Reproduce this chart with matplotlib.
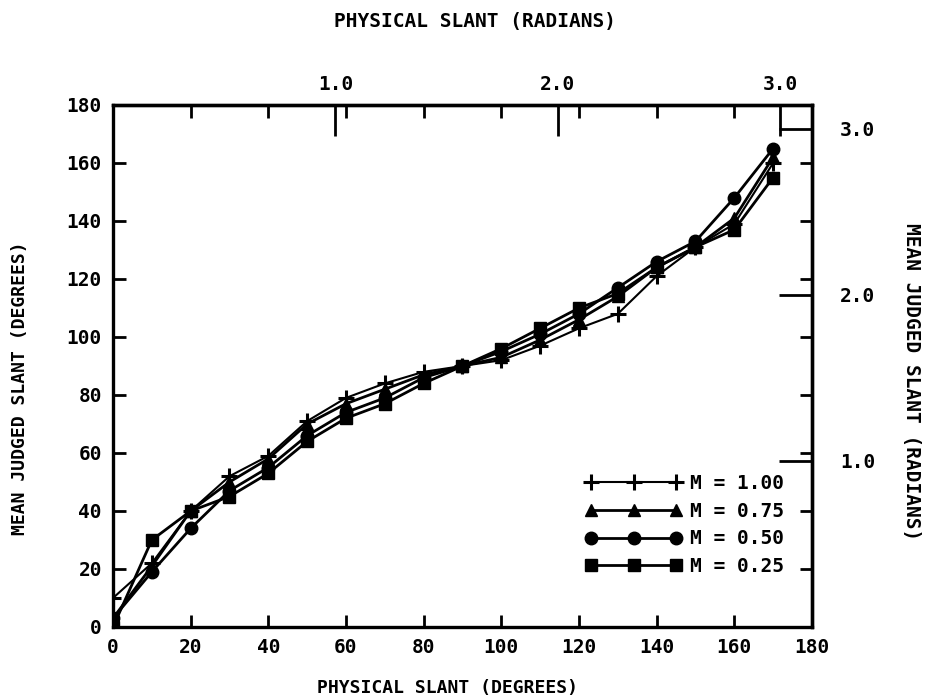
import numpy as np
import matplotlib
matplotlib.use("Agg")
import matplotlib.pyplot as plt

# ---- data (degrees) ----
physical = [0, 10, 20, 30, 40, 50, 60, 70, 80, 90, 100, 110, 120, 130, 140, 150, 160, 170]
m100 = [10, 22, 40, 52, 59, 71, 79, 84, 88, 90, 92, 97, 103, 108, 121, 131, 139, 160]
m075 = [3, 21, 40, 50, 58, 70, 77, 82, 87, 90, 93, 99, 106, 114, 124, 131, 141, 162]
m050 = [3, 19, 34, 47, 55, 66, 74, 79, 86, 90, 95, 101, 108, 117, 126, 133, 148, 165]
m025 = [0, 30, 40, 45, 53, 64, 72, 77, 84, 90, 96, 103, 110, 115, 124, 131, 137, 155]
labels = ["M = 1.00", "M = 0.75", "M = 0.50", "M = 0.25"]
deg_ticks = [0, 20, 40, 60, 80, 100, 120, 140, 160, 180]
rad_ticks = [1.0, 2.0, 3.0]
rad_labels = ["1.0", "2.0", "3.0"]

FONT = "DejaVu Sans Mono"
FS = 14

fig = plt.figure(figsize=(9.28, 7.0), dpi=100)
ax = fig.add_axes([113/928, 1-627/700, (812-113)/928, (627-105)/700])

styles = [dict(marker='+', ms=12, mew=2.2, lw=1.5),
          dict(marker='^', ms=8, lw=2.0),
          dict(marker='o', ms=9, lw=2.0),
          dict(marker='s', ms=8, lw=2.0)]
for ys, lab, st in zip([m100, m075, m050, m025], labels, styles):
    ax.plot(physical, ys, color='black', label=lab, **st)

ax.set_xlim(0, 180)
ax.set_ylim(0, 180)
ax.set_xticks(deg_ticks)
ax.set_yticks(deg_ticks)
ax.tick_params(direction='in', length=9, width=2, top=True, right=True,
               labelsize=FS, pad=8)
for lab in ax.get_xticklabels() + ax.get_yticklabels():
    lab.set_fontfamily(FONT)
    lab.set_fontweight('bold')
for sp in ax.spines.values():
    sp.set_linewidth(2.4)

d2r = lambda d: np.deg2rad(d)
r2d = lambda r: np.rad2deg(r)
secx = ax.secondary_xaxis('top', functions=(d2r, r2d))
secx.set_xticks(rad_ticks)
secx.set_xticklabels(rad_labels, fontfamily=FONT, fontweight='bold', fontsize=FS)
secx.tick_params(direction='in', length=22, width=2, pad=8)
secx.spines['top'].set_linewidth(2.4)

secy = ax.secondary_yaxis('right', functions=(d2r, r2d))
secy.set_yticks(rad_ticks)
secy.set_yticklabels(rad_labels, fontfamily=FONT, fontweight='bold', fontsize=FS)
secy.tick_params(direction='in', length=24, width=2, pad=20)
secy.spines['right'].set_linewidth(2.4)

leg = ax.legend(loc='lower right', bbox_to_anchor=(0.985, 0.064), frameon=False,
                numpoints=3, handlelength=5.0, handletextpad=0.4, labelspacing=0.45,
                prop=dict(family=FONT, weight='bold', size=FS))

tkw = dict(fontfamily=FONT, fontweight='bold', ha='center', va='center')
fig.text(475/928, 1-22/700, "PHYSICAL SLANT (RADIANS)", fontsize=FS, **tkw)
fig.text(448/928, 1-688/700, "PHYSICAL SLANT (DEGREES)", fontsize=FS - 1, **tkw)
fig.text(20/928, 1-388/700, "MEAN JUDGED SLANT (DEGREES)", rotation=90, fontsize=FS - 1, **tkw)
fig.text(912/928, 1-382/700, "MEAN JUDGED SLANT (RADIANS)", rotation=-90, fontsize=FS, **tkw)

fig.savefig("out.png", dpi=100, facecolor='white')
